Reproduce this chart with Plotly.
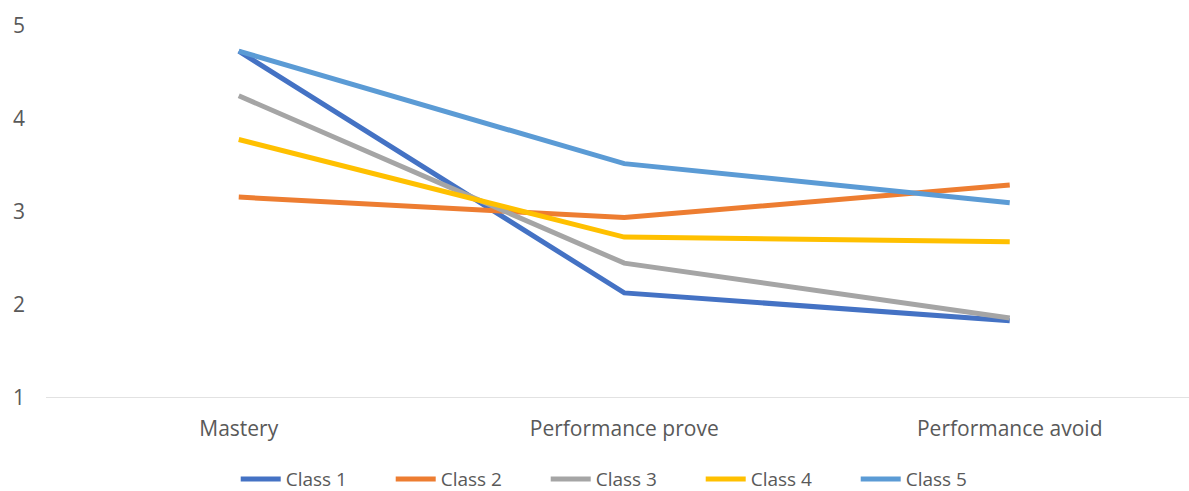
import plotly.graph_objects as go

categories = ["Mastery", "Performance prove", "Performance avoid"]
class1 = [4.73, 2.13, 1.83]
class2 = [3.16, 2.94, 3.29]
class3 = [4.25, 2.45, 1.86]
class4 = [3.78, 2.73, 2.68]
class5 = [4.73, 3.52, 3.10]
names = ["Class 1", "Class 2", "Class 3", "Class 4", "Class 5"]
colors = ["#4472C4", "#ED7D31", "#A5A5A5", "#FFC000", "#5B9BD5"]
series = [class1, class2, class3, class4, class5]

fig = go.Figure()
for n, c, s in zip(names, colors, series):
    fig.add_trace(go.Scatter(x=categories, y=s, name=n, mode="lines",
                             line=dict(color=c, width=5)))

font = dict(family="Open Sans, Calibri, sans-serif", size=21, color="#595959")
fig.update_layout(
    width=1189, height=491,
    margin=dict(l=46, r=0, t=26, b=93, autoexpand=False),
    paper_bgcolor="white", plot_bgcolor="white",
    font=font,
    showlegend=True,
    legend=dict(orientation="h", x=0.505, xanchor="center", y=-0.218, yanchor="middle",
                font=dict(family="Open Sans, Calibri, sans-serif", size=19, color="#595959"),
                traceorder="normal", itemwidth=40, entrywidth=100, entrywidthmode="pixels"),
    xaxis=dict(type="category", range=[-0.5, 2.465], showgrid=False, zeroline=False,
               showline=False, ticks="", tickfont=font, ticklabelstandoff=16,
               automargin=False),
    yaxis=dict(range=[1, 5], dtick=1, showgrid=False, zeroline=False, showline=False,
               ticks="", tickfont=font, ticklabelstandoff=20, automargin=False),
)
fig.add_shape(type="line", xref="paper", yref="y", x0=0, x1=1, y0=1, y1=1,
              line=dict(color="#D9D9D9", width=1.5), layer="below")
fig.write_html("out.html")
